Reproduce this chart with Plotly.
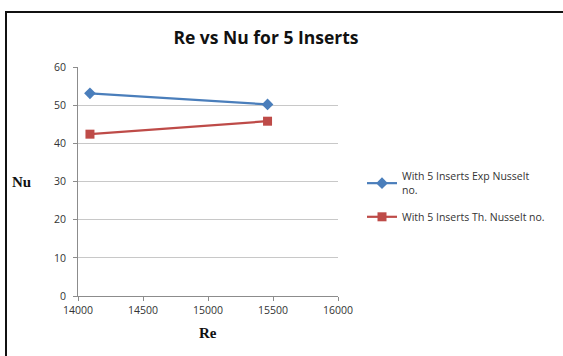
import plotly.graph_objects as go

# Reynolds number vs Nusselt number, 5 inserts
re_exp = [14092, 15458]
nu_exp = [53.1, 50.2]
re_th = [14092, 15458]
nu_th = [42.4, 45.8]

x_ticks = [14000, 14500, 15000, 15500, 16000]
y_ticks = [0, 10, 20, 30, 40, 50, 60]

W, H = 563, 356

fig = go.Figure()
fig.add_trace(go.Scatter(
    x=re_exp, y=nu_exp, mode="lines+markers",
    name="With 5 Inserts Exp Nusselt<br>no.", legendgroup="exp",
    line=dict(color="#4a7ebb", width=2.2),
    marker=dict(symbol="diamond", size=9, color="#4a7ebb"),
))
fig.add_trace(go.Scatter(
    x=re_th, y=nu_th, mode="lines+markers",
    name="With 5 Inserts Th. Nusselt no.", legendgroup="th",
    line=dict(color="#be4b48", width=2.2),
    marker=dict(symbol="square", size=9, color="#be4b48"),
))

font_ui = "Open Sans, Noto Sans, sans-serif"

fig.update_layout(
    width=W, height=H,
    margin=dict(l=0, r=0, t=0, b=0, autoexpand=False),
    paper_bgcolor="white", plot_bgcolor="white",
    showlegend=True,
    legend=dict(
        x=362 / W, y=1 - 163 / H, xanchor="left", yanchor="top",
        font=dict(family=font_ui, size=10.5, color="#333333"),
        bgcolor="rgba(0,0,0,0)", tracegroupgap=9, itemwidth=30,
    ),
    title=dict(
        text="<b>Re vs Nu for 5 Inserts</b>",
        x=266 / W, xanchor="center", y=1 - 38 / H, yanchor="middle",
        font=dict(family="Open Sans, sans-serif", size=17.5, color="#111111"),
    ),
    xaxis=dict(
        domain=[78 / W, 338 / W], range=[14000, 16000], automargin=False,
        tickvals=x_ticks, ticktext=[str(v) for v in x_ticks],
        ticks="outside", ticklen=4, tickcolor="#8c8c8c",
        showline=True, linecolor="#8c8c8c", linewidth=1,
        showgrid=False, zeroline=False,
        tickfont=dict(family=font_ui, size=10.5, color="#333333"),
    ),
    yaxis=dict(
        domain=[1 - 296 / H, 1 - 67 / H], range=[0, 60], automargin=False,
        tickvals=y_ticks, ticks="outside", ticklen=4, tickcolor="#8c8c8c",
        ticklabelstandoff=5,
        showline=True, linecolor="#8c8c8c", linewidth=1,
        showgrid=True, gridcolor="#c8c8c8", gridwidth=1, zeroline=False,
        tickfont=dict(family=font_ui, size=10.5, color="#333333"),
    ),
    annotations=[
        dict(text="<b>Nu</b>", x=21 / W, y=1 - 182 / H, xref="paper", yref="paper",
             xanchor="center", yanchor="middle", showarrow=False,
             font=dict(family="Liberation Serif, serif", size=15, color="#111111")),
        dict(text="<b>Re</b>", x=208 / W, y=1 - 333 / H, xref="paper", yref="paper",
             xanchor="center", yanchor="middle", showarrow=False,
             font=dict(family="Liberation Serif, serif", size=15, color="#111111")),
    ],
    shapes=[
        dict(type="line", xref="paper", yref="paper", x0=5 / W, x1=1.05,
             y0=1 - 12 / H, y1=1 - 12 / H, line=dict(color="#111111", width=2)),
        dict(type="line", xref="paper", yref="paper", x0=6 / W, x1=6 / W,
             y0=-0.05, y1=1 - 12 / H, line=dict(color="#111111", width=2)),
    ],
)

fig.write_html("out.html", config={"displayModeBar": False})
